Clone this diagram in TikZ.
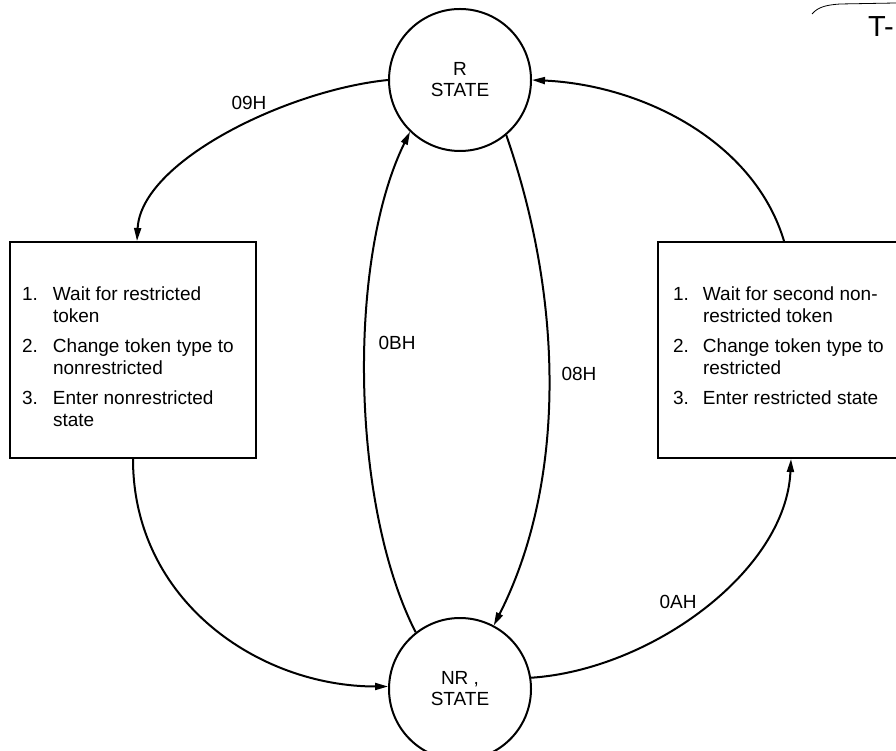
\documentclass[tikz,border=0pt]{standalone}
\usepackage{fontspec}
\setmainfont{Liberation Sans}
\usetikzlibrary{arrows.meta,positioning}
\begin{document}
\begin{tikzpicture}[x=1pt,y=1pt,line width=2pt,
  state/.style={draw,circle,minimum size=142pt,align=center,font=\fontsize{19}{21}\selectfont},
  actbox/.style={draw,rectangle,minimum width=246pt,minimum height=216pt},
  steps/.style={anchor=north west,font=\fontsize{19}{22}\selectfont},
  lbl/.style={font=\fontsize{19}{22}\selectfont},
  arr/.style={-{Triangle[length=13pt,width=7pt]}}]
\tikzstyle{every node}+=[inner sep=0pt]
\useasboundingbox (0,0) rectangle (896,750);
\clip (0,0) rectangle (896,750);
\node [state] (R) at (460,670) {R\\STATE};
\node [state] (NR) at (460,61) {NR ,\\STATE};
\node [actbox] (L) at (133,400) {};
\node [actbox,minimum width=252pt] (Rb) at (784,400) {};
\node [steps] (Lsteps) at ([xshift=12pt,yshift=-43pt]L.north west) {%
  \begin{tabular}{@{}p{31pt}@{}l@{}}
  1. & Wait for restricted\\ & token\\[8pt]
  2. & Change token type to\\ & nonrestricted\\[8pt]
  3. & Enter nonrestricted\\ & state
  \end{tabular}};
\node [steps] (Rsteps) at ([xshift=15pt,yshift=-43pt]Rb.north west) {%
  \begin{tabular}{@{}p{30pt}@{}l@{}}
  1. & Wait for second non-\\ & restricted token\\[8pt]
  2. & Change token type to\\ & restricted\\[8pt]
  3. & Enter restricted state
  \end{tabular}};
\draw [arr] (R.180) .. controls +(-100,-10) and +(4,80) .. ([xshift=4pt]L.north);
\node [lbl] (l09) at (249,647) {09H};
\draw [arr] (NR.128) .. controls +(-65,127) and +(-63,-128) .. (R.226);
\node [lbl] (l0B) at (397,407) {0BH};
\draw [arr] (R.310) .. controls +(59,-170) and +(71,140) .. (NR.62);
\node [lbl] (l08) at (579,376) {08H};
\draw [arr] (NR.9) .. controls +(120,8) and +(-5,-112) .. ([xshift=7pt]Rb.south);
\node [lbl] (l0A) at (678,148) {0AH};
\draw [arr] (Rb.north) .. controls +(-30,100) and +(110,-5) .. (R.0);
\draw [arr] (L.south) .. controls +(0,-142) and +(-129,0) .. (NR.178);
\node [anchor=west,font=\fontsize{29}{30}\selectfont] (tag) at (867,723) {T-};
\draw [line width=0.8pt] (812,736) .. controls (818,743) and (826,745) .. (840,746) -- (896,747);
\end{tikzpicture}
\end{document}
